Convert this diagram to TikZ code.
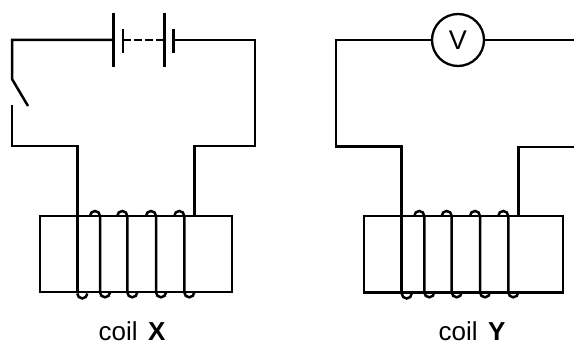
\documentclass[tikz,border=0pt]{standalone}
\usepackage{fontspec}
\setmainfont{Liberation Sans}
\usetikzlibrary{calc}

\tikzset{
  wire/.style={line width=2.5pt},
  core/.style={draw, line width=2.3pt, rectangle, inner sep=0pt},
  meter/.style={draw, line width=2.3pt, circle, inner sep=0pt, minimum size=52pt, font=\fontsize{27}{30}\selectfont},
  coillabel/.style={anchor=base, inner sep=0pt, font=\fontsize{26}{30}\selectfont},
}

\begin{document}
\begin{tikzpicture}[x=1pt, y=-1pt]
      \useasboundingbox (0,0) rectangle (574,345);

      % coil X circuit
      \coordinate (xTL) at (12,40);
      \coordinate (xTR) at (255,40);
      \coordinate (xBL) at (12,146);
      \coordinate (xBR) at (255,146);
      \coordinate (swA) at (12,79);
      \coordinate (swB) at (28,106);
      \coordinate (swC) at (12,105);
      \coordinate (cellA) at (113.7,40);
      \coordinate (cellB) at (123,40);
      \coordinate (cellC) at (164.3,40);
      \coordinate (cellD) at (173.7,40);
      \coordinate (xLeadL) at (77.3,146);
      \coordinate (xLeadR) at (194.3,146);
      \node[core, minimum width=192pt, minimum height=76.6pt] (coreX) at (136,254) {};

      \draw[wire] (swB) -- (swA) -- (xTL) -- (cellA);
      \draw[wire] (swC) -- (xBL) -- (xLeadL) -- (xLeadL |- coreX.south);
      \draw[wire] (cellD) -- (xTR) -- (xBR) -- (xLeadR) -- (xLeadR |- coreX.north);

      \draw[wire] (113.7,13) -- (113.7,67);
      \draw[wire] (123,29) -- (123,53);
      \draw[wire, dash pattern=on 8pt off 3pt] (cellB) -- (cellC);
      \draw[wire] (164.3,13) -- (164.3,67);
      \draw[wire] (173.7,29) -- (173.7,53);

      \draw[wire] (xLeadL |- coreX.south) arc[start angle=180, end angle=360, radius=5pt];
      \draw[wire] (90,216) arc[start angle=180, end angle=0, radius=5pt] -- (100,292.3) arc[start angle=180, end angle=360, radius=5pt];
      \draw[wire] (117.3,216) arc[start angle=180, end angle=0, radius=5pt] -- (127.3,292.3) arc[start angle=180, end angle=360, radius=5pt];
      \draw[wire] (146,216) arc[start angle=180, end angle=0, radius=5pt] -- (156,292.3) arc[start angle=180, end angle=360, radius=5pt];
      \draw[wire] (174.3,216) arc[start angle=180, end angle=0, radius=5pt] -- (184.3,292.3) arc[start angle=180, end angle=360, radius=5pt];

      \node[coillabel] (labX) at (132,340) {coil\hspace{0.4em}\textbf{X}};

      % coil Y circuit
      \coordinate (yTL) at (336,40);
      \coordinate (yBL) at (336,146.5);
      \coordinate (yEndT) at (578,40);
      \coordinate (yEndB) at (578,147);
      \coordinate (yLeadL) at (401.7,146.5);
      \coordinate (yLeadR) at (518.7,147);
      \node[meter] (vm) at (458,40) {V};
      \node[core, minimum width=199pt, minimum height=76.3pt] (coreY) at (463.8,254.2) {};

      \draw[wire] (vm.west) -- (yTL) -- (yBL) -- (yLeadL) -- (yLeadL |- coreY.south);
      \draw[wire] (vm.east) -- (yEndT);
      \draw[wire] (yEndB) -- (yLeadR) -- (yLeadR |- coreY.north);

      \draw[wire] (yLeadL |- coreY.south) arc[start angle=180, end angle=360, radius=5pt];
      \draw[wire] (414.3,216) arc[start angle=180, end angle=0, radius=5pt] -- (424.3,292.3) arc[start angle=180, end angle=360, radius=5pt];
      \draw[wire] (441.7,216) arc[start angle=180, end angle=0, radius=5pt] -- (451.7,292.3) arc[start angle=180, end angle=360, radius=5pt];
      \draw[wire] (470,216) arc[start angle=180, end angle=0, radius=5pt] -- (480,292.3) arc[start angle=180, end angle=360, radius=5pt];
      \draw[wire] (498.3,216) arc[start angle=180, end angle=0, radius=5pt] -- (508.3,292.3) arc[start angle=180, end angle=360, radius=5pt];

      \node[coillabel] (labY) at (472,340) {coil\hspace{0.4em}\textbf{Y}};
\end{tikzpicture}
\end{document}
